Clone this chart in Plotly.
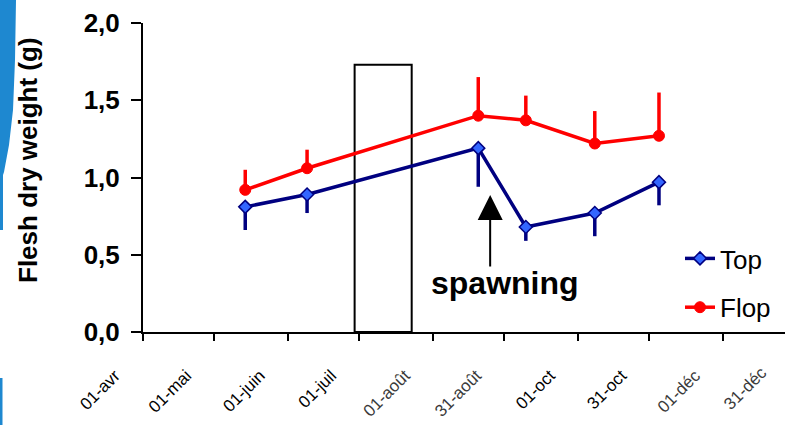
import plotly.graph_objects as go

# ---------------- data ----------------
sample_dates = ["2005-05-14", "2005-06-09", "2005-08-20", "2005-09-09", "2005-10-08", "2005-11-04"]
top_values = [0.81, 0.89, 1.19, 0.68, 0.77, 0.97]
top_err_down = [0.15, 0.12, 0.25, 0.09, 0.15, 0.15]
flop_values = [0.92, 1.06, 1.40, 1.37, 1.22, 1.27]
flop_err_up = [0.13, 0.12, 0.25, 0.16, 0.21, 0.28]

tick_dates = ["2005-04-01", "2005-05-01", "2005-06-01", "2005-07-01", "2005-08-01",
              "2005-08-31", "2005-10-01", "2005-10-31", "2005-12-01"]
tick_labels = ["01-avr", "01-mai", "01-juin", "01-juil", "01-août",
               "31-août", "01-oct", "31-oct", "01-déc"]
fuzzy_labels = {"01-août", "31-août", "01-déc"}
extra_label = "31-déc"

y_ticks = [0.0, 0.5, 1.0, 1.5, 2.0]
y_title = "Flesh dry weight (g)"

FONT = "Arial, Liberation Sans, sans-serif"
W, H = 785, 425
ML, MR, MT, MB = 143, 0, 23, 93
PW, PH = W - ML - MR, H - MT - MB


def px2paper(x, y):
    return (x - ML) / PW, (H - MB - y) / PH


fig = go.Figure()

fig.add_trace(go.Scatter(
    x=sample_dates, y=top_values, name="Top", mode="lines+markers",
    line=dict(color="#000080", width=3.5),
    marker=dict(symbol="diamond", size=10, color="#3366FF", line=dict(color="#000080", width=1.5)),
    error_y=dict(type="data", symmetric=False, array=[0] * len(top_err_down),
                 arrayminus=top_err_down, width=0, thickness=3.5, color="#000080"),
    legendgroup="a",
))
fig.add_trace(go.Scatter(
    x=sample_dates, y=flop_values, name="Flop", mode="lines+markers",
    line=dict(color="#FF0000", width=3.5),
    marker=dict(symbol="circle", size=11, color="#FF0000", line=dict(color="#FF0000", width=1)),
    error_y=dict(type="data", symmetric=False, array=flop_err_up,
                 arrayminus=[0] * len(flop_err_up), width=0, thickness=3.5, color="#FF0000"),
    legendgroup="b",
))

ticktext = [f'<span style="color:#3a3a3a">{t}</span>' if t in fuzzy_labels else t for t in tick_labels]

fig.update_xaxes(
    type="date", range=["2005-04-01", "2005-12-27"],
    tickmode="array", tickvals=tick_dates, ticktext=ticktext,
    tickangle=-45, tickfont=dict(family=FONT, size=17, color="black"),
    ticklabelshift=-28, ticklabelstandoff=18,
    showline=True, linecolor="black", linewidth=2,
    ticks="outside", ticklen=7, tickwidth=2, tickcolor="black",
    showgrid=False, zeroline=False,
)
fig.update_yaxes(
    range=[0, 2], tickmode="array", tickvals=y_ticks,
    tickformat=".1f",
    tickfont=dict(family=FONT, size=26, color="black", weight="bold"),
    showline=True, linecolor="black", linewidth=2,
    ticks="outside", ticklen=10, tickwidth=2, tickcolor="black",
    ticklabelstandoff=6,
    showgrid=False, zeroline=False,
)

# y-axis title placed like the original (left, slightly above centre)
tx, ty = px2paper(28, 160)
fig.add_annotation(x=tx, y=ty, xref="paper", yref="paper", text=y_title, showarrow=False,
                   textangle=-90, xanchor="center", yanchor="middle",
                   font=dict(family=FONT, size=26, color="black", weight="bold"))

# spawning rectangle (window)
fig.add_shape(type="rect", xref="x", yref="y", x0="2005-06-29", x1="2005-07-23", y0=0, y1=1.73,
              line=dict(color="black", width=2), fillcolor="rgba(0,0,0,0)", layer="below")

# spawning arrow
fig.add_annotation(x="2005-08-25", y=0.887, xref="x", yref="y", text="", showarrow=True,
                   ax=0, ay=73, arrowhead=2, arrowsize=2.5, arrowwidth=2, arrowcolor="black", standoff=0)
sx, sy = px2paper(505, 283)
fig.add_annotation(x=sx, y=sy, xref="paper", yref="paper", text="spawning", showarrow=False,
                   xanchor="center", yanchor="middle",
                   font=dict(family=FONT, size=32, color="black", weight="bold"))

# last (off-range) date label
lx, ly = px2paper(745, 388)
fig.add_annotation(x=lx, y=ly, xref="paper", yref="paper", text=extra_label, showarrow=False,
                   textangle=-45, xanchor="center", yanchor="middle",
                   font=dict(family=FONT, size=17, color="#3a3a3a"))

# blue stripe at left edge (slide decoration)
stripe = [(0, 0), (16, 0), (15, 60), (13, 110), (9, 145), (4, 172), (3, 175), (3, 230), (0, 230)]
pts = [px2paper(x, y) for x, y in stripe]
path = "M " + " L ".join(f"{a},{b}" for a, b in pts) + " Z"
fig.add_shape(type="path", xref="paper", yref="paper", path=path,
              fillcolor="#1E88D0", line=dict(width=0))
x0, y0 = px2paper(0, 378)
x1, y1 = px2paper(2.5, 425)
fig.add_shape(type="rect", xref="paper", yref="paper", x0=x0, x1=x1, y0=y0, y1=y1,
              fillcolor="#1E88D0", line=dict(width=0))

lgx, lgy = px2paper(680, 235)
fig.update_layout(
    width=W, height=H,
    margin=dict(l=ML, r=MR, t=MT, b=MB, pad=0),
    paper_bgcolor="white", plot_bgcolor="white",
    separators=", ",
    showlegend=True,
    legend=dict(x=lgx, y=lgy, xanchor="left", yanchor="top", bgcolor="rgba(0,0,0,0)",
                font=dict(family=FONT, size=26, color="black"), tracegroupgap=12,
                itemwidth=30),
    font=dict(family=FONT),
)

fig.write_html("out.html")
